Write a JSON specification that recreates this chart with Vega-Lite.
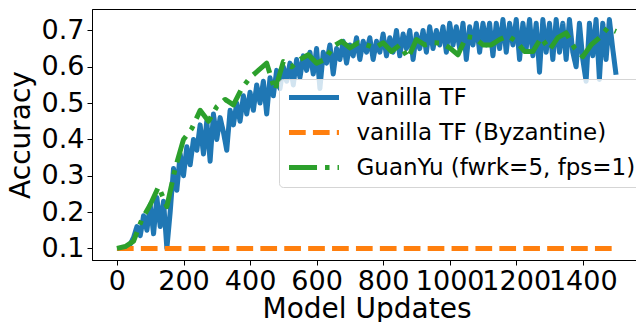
{
  "$schema": "https://vega.github.io/schema/vega-lite/v6.json",
  "autosize": {"type": "none"},
  "padding": {"left": 92, "top": 9, "right": 0, "bottom": 62},
  "width": 549,
  "height": 251,
  "background": "white",
  "config": {
    "view": {"stroke": "black", "strokeWidth": 1},
    "font": "DejaVu Sans",
    "axis": {
      "grid": false,
      "domainColor": "black",
      "domainWidth": 1,
      "tickColor": "black",
      "tickWidth": 1,
      "tickSize": 5,
      "labelColor": "black",
      "titleColor": "black",
      "labelFont": "DejaVu Sans",
      "titleFont": "DejaVu Sans",
      "labelFontSize": 27,
      "titleFontSize": 28,
      "titleFontWeight": "normal",
      "labelPadding": 3
    },
    "legend": {
      "orient": "none",
      "legendX": 187,
      "legendY": 70,
      "labelFont": "DejaVu Sans",
      "labelFontSize": 23,
      "labelColor": "black",
      "labelLimit": 0,
      "symbolType": "M-4,0H4",
      "symbolStrokeWidth": 5,
      "symbolSize": 156,
      "symbolOffset": 16.5,
      "labelOffset": 31,
      "fillColor": "rgba(255,255,255,0.8)",
      "strokeColor": "#d5d5d5",
      "cornerRadius": 4,
      "padding": 7,
      "rowPadding": 11
    }
  },
  "data": {
    "values": [
      {"s": "vanilla TF", "u": 0, "a": 0.100},
      {"s": "vanilla TF", "u": 10, "a": 0.100},
      {"s": "vanilla TF", "u": 20, "a": 0.100},
      {"s": "vanilla TF", "u": 30, "a": 0.105},
      {"s": "vanilla TF", "u": 40, "a": 0.112},
      {"s": "vanilla TF", "u": 50, "a": 0.130},
      {"s": "vanilla TF", "u": 60, "a": 0.160},
      {"s": "vanilla TF", "u": 70, "a": 0.135},
      {"s": "vanilla TF", "u": 80, "a": 0.190},
      {"s": "vanilla TF", "u": 90, "a": 0.150},
      {"s": "vanilla TF", "u": 100, "a": 0.220},
      {"s": "vanilla TF", "u": 110, "a": 0.140},
      {"s": "vanilla TF", "u": 120, "a": 0.240},
      {"s": "vanilla TF", "u": 130, "a": 0.160},
      {"s": "vanilla TF", "u": 140, "a": 0.230},
      {"s": "vanilla TF", "u": 150, "a": 0.100},
      {"s": "vanilla TF", "u": 160, "a": 0.200},
      {"s": "vanilla TF", "u": 170, "a": 0.320},
      {"s": "vanilla TF", "u": 180, "a": 0.260},
      {"s": "vanilla TF", "u": 190, "a": 0.360},
      {"s": "vanilla TF", "u": 200, "a": 0.300},
      {"s": "vanilla TF", "u": 210, "a": 0.380},
      {"s": "vanilla TF", "u": 220, "a": 0.330},
      {"s": "vanilla TF", "u": 230, "a": 0.400},
      {"s": "vanilla TF", "u": 240, "a": 0.370},
      {"s": "vanilla TF", "u": 250, "a": 0.440},
      {"s": "vanilla TF", "u": 260, "a": 0.360},
      {"s": "vanilla TF", "u": 270, "a": 0.450},
      {"s": "vanilla TF", "u": 280, "a": 0.340},
      {"s": "vanilla TF", "u": 290, "a": 0.470},
      {"s": "vanilla TF", "u": 300, "a": 0.400},
      {"s": "vanilla TF", "u": 310, "a": 0.460},
      {"s": "vanilla TF", "u": 320, "a": 0.420},
      {"s": "vanilla TF", "u": 330, "a": 0.370},
      {"s": "vanilla TF", "u": 340, "a": 0.480},
      {"s": "vanilla TF", "u": 350, "a": 0.440},
      {"s": "vanilla TF", "u": 360, "a": 0.500},
      {"s": "vanilla TF", "u": 370, "a": 0.450},
      {"s": "vanilla TF", "u": 380, "a": 0.520},
      {"s": "vanilla TF", "u": 390, "a": 0.470},
      {"s": "vanilla TF", "u": 400, "a": 0.530},
      {"s": "vanilla TF", "u": 410, "a": 0.480},
      {"s": "vanilla TF", "u": 420, "a": 0.550},
      {"s": "vanilla TF", "u": 430, "a": 0.500},
      {"s": "vanilla TF", "u": 440, "a": 0.560},
      {"s": "vanilla TF", "u": 450, "a": 0.470},
      {"s": "vanilla TF", "u": 460, "a": 0.570},
      {"s": "vanilla TF", "u": 470, "a": 0.520},
      {"s": "vanilla TF", "u": 480, "a": 0.590},
      {"s": "vanilla TF", "u": 490, "a": 0.540},
      {"s": "vanilla TF", "u": 500, "a": 0.600},
      {"s": "vanilla TF", "u": 510, "a": 0.560},
      {"s": "vanilla TF", "u": 520, "a": 0.610},
      {"s": "vanilla TF", "u": 530, "a": 0.550},
      {"s": "vanilla TF", "u": 540, "a": 0.620},
      {"s": "vanilla TF", "u": 550, "a": 0.570},
      {"s": "vanilla TF", "u": 560, "a": 0.630},
      {"s": "vanilla TF", "u": 570, "a": 0.590},
      {"s": "vanilla TF", "u": 580, "a": 0.640},
      {"s": "vanilla TF", "u": 590, "a": 0.580},
      {"s": "vanilla TF", "u": 600, "a": 0.650},
      {"s": "vanilla TF", "u": 610, "a": 0.540},
      {"s": "vanilla TF", "u": 620, "a": 0.640},
      {"s": "vanilla TF", "u": 630, "a": 0.610},
      {"s": "vanilla TF", "u": 640, "a": 0.660},
      {"s": "vanilla TF", "u": 650, "a": 0.580},
      {"s": "vanilla TF", "u": 660, "a": 0.650},
      {"s": "vanilla TF", "u": 670, "a": 0.620},
      {"s": "vanilla TF", "u": 680, "a": 0.670},
      {"s": "vanilla TF", "u": 690, "a": 0.610},
      {"s": "vanilla TF", "u": 700, "a": 0.660},
      {"s": "vanilla TF", "u": 710, "a": 0.630},
      {"s": "vanilla TF", "u": 720, "a": 0.680},
      {"s": "vanilla TF", "u": 730, "a": 0.620},
      {"s": "vanilla TF", "u": 740, "a": 0.670},
      {"s": "vanilla TF", "u": 750, "a": 0.640},
      {"s": "vanilla TF", "u": 760, "a": 0.680},
      {"s": "vanilla TF", "u": 770, "a": 0.620},
      {"s": "vanilla TF", "u": 780, "a": 0.670},
      {"s": "vanilla TF", "u": 790, "a": 0.640},
      {"s": "vanilla TF", "u": 800, "a": 0.690},
      {"s": "vanilla TF", "u": 810, "a": 0.630},
      {"s": "vanilla TF", "u": 820, "a": 0.680},
      {"s": "vanilla TF", "u": 830, "a": 0.640},
      {"s": "vanilla TF", "u": 840, "a": 0.700},
      {"s": "vanilla TF", "u": 850, "a": 0.630},
      {"s": "vanilla TF", "u": 860, "a": 0.690},
      {"s": "vanilla TF", "u": 870, "a": 0.650},
      {"s": "vanilla TF", "u": 880, "a": 0.700},
      {"s": "vanilla TF", "u": 890, "a": 0.620},
      {"s": "vanilla TF", "u": 900, "a": 0.690},
      {"s": "vanilla TF", "u": 910, "a": 0.650},
      {"s": "vanilla TF", "u": 920, "a": 0.700},
      {"s": "vanilla TF", "u": 930, "a": 0.640},
      {"s": "vanilla TF", "u": 940, "a": 0.710},
      {"s": "vanilla TF", "u": 950, "a": 0.650},
      {"s": "vanilla TF", "u": 960, "a": 0.700},
      {"s": "vanilla TF", "u": 970, "a": 0.660},
      {"s": "vanilla TF", "u": 980, "a": 0.710},
      {"s": "vanilla TF", "u": 990, "a": 0.640},
      {"s": "vanilla TF", "u": 1000, "a": 0.720},
      {"s": "vanilla TF", "u": 1010, "a": 0.660},
      {"s": "vanilla TF", "u": 1020, "a": 0.710},
      {"s": "vanilla TF", "u": 1030, "a": 0.650},
      {"s": "vanilla TF", "u": 1040, "a": 0.720},
      {"s": "vanilla TF", "u": 1050, "a": 0.620},
      {"s": "vanilla TF", "u": 1060, "a": 0.710},
      {"s": "vanilla TF", "u": 1070, "a": 0.660},
      {"s": "vanilla TF", "u": 1080, "a": 0.720},
      {"s": "vanilla TF", "u": 1090, "a": 0.640},
      {"s": "vanilla TF", "u": 1100, "a": 0.720},
      {"s": "vanilla TF", "u": 1110, "a": 0.660},
      {"s": "vanilla TF", "u": 1120, "a": 0.720},
      {"s": "vanilla TF", "u": 1130, "a": 0.630},
      {"s": "vanilla TF", "u": 1140, "a": 0.720},
      {"s": "vanilla TF", "u": 1150, "a": 0.650},
      {"s": "vanilla TF", "u": 1160, "a": 0.730},
      {"s": "vanilla TF", "u": 1170, "a": 0.640},
      {"s": "vanilla TF", "u": 1180, "a": 0.720},
      {"s": "vanilla TF", "u": 1190, "a": 0.660},
      {"s": "vanilla TF", "u": 1200, "a": 0.730},
      {"s": "vanilla TF", "u": 1210, "a": 0.620},
      {"s": "vanilla TF", "u": 1220, "a": 0.720},
      {"s": "vanilla TF", "u": 1230, "a": 0.650},
      {"s": "vanilla TF", "u": 1240, "a": 0.730},
      {"s": "vanilla TF", "u": 1250, "a": 0.630},
      {"s": "vanilla TF", "u": 1260, "a": 0.720},
      {"s": "vanilla TF", "u": 1270, "a": 0.585},
      {"s": "vanilla TF", "u": 1280, "a": 0.730},
      {"s": "vanilla TF", "u": 1290, "a": 0.640},
      {"s": "vanilla TF", "u": 1300, "a": 0.720},
      {"s": "vanilla TF", "u": 1310, "a": 0.620},
      {"s": "vanilla TF", "u": 1320, "a": 0.730},
      {"s": "vanilla TF", "u": 1330, "a": 0.640},
      {"s": "vanilla TF", "u": 1340, "a": 0.720},
      {"s": "vanilla TF", "u": 1350, "a": 0.620},
      {"s": "vanilla TF", "u": 1360, "a": 0.730},
      {"s": "vanilla TF", "u": 1370, "a": 0.640},
      {"s": "vanilla TF", "u": 1380, "a": 0.600},
      {"s": "vanilla TF", "u": 1390, "a": 0.720},
      {"s": "vanilla TF", "u": 1400, "a": 0.620},
      {"s": "vanilla TF", "u": 1410, "a": 0.560},
      {"s": "vanilla TF", "u": 1420, "a": 0.720},
      {"s": "vanilla TF", "u": 1430, "a": 0.630},
      {"s": "vanilla TF", "u": 1440, "a": 0.730},
      {"s": "vanilla TF", "u": 1450, "a": 0.565},
      {"s": "vanilla TF", "u": 1460, "a": 0.720},
      {"s": "vanilla TF", "u": 1470, "a": 0.620},
      {"s": "vanilla TF", "u": 1480, "a": 0.730},
      {"s": "vanilla TF", "u": 1490, "a": 0.650},
      {"s": "vanilla TF", "u": 1500, "a": 0.578},
      {"s": "vanilla TF (Byzantine)", "u": 0, "a": 0.1},
      {"s": "vanilla TF (Byzantine)", "u": 1500, "a": 0.1},
      {"s": "GuanYu (fwrk=5, fps=1)", "u": 0, "a": 0.100},
      {"s": "GuanYu (fwrk=5, fps=1)", "u": 25, "a": 0.105},
      {"s": "GuanYu (fwrk=5, fps=1)", "u": 50, "a": 0.120},
      {"s": "GuanYu (fwrk=5, fps=1)", "u": 75, "a": 0.180},
      {"s": "GuanYu (fwrk=5, fps=1)", "u": 100, "a": 0.220},
      {"s": "GuanYu (fwrk=5, fps=1)", "u": 125, "a": 0.270},
      {"s": "GuanYu (fwrk=5, fps=1)", "u": 150, "a": 0.215},
      {"s": "GuanYu (fwrk=5, fps=1)", "u": 175, "a": 0.320},
      {"s": "GuanYu (fwrk=5, fps=1)", "u": 200, "a": 0.400},
      {"s": "GuanYu (fwrk=5, fps=1)", "u": 225, "a": 0.430},
      {"s": "GuanYu (fwrk=5, fps=1)", "u": 250, "a": 0.480},
      {"s": "GuanYu (fwrk=5, fps=1)", "u": 275, "a": 0.450},
      {"s": "GuanYu (fwrk=5, fps=1)", "u": 300, "a": 0.490},
      {"s": "GuanYu (fwrk=5, fps=1)", "u": 325, "a": 0.510},
      {"s": "GuanYu (fwrk=5, fps=1)", "u": 350, "a": 0.495},
      {"s": "GuanYu (fwrk=5, fps=1)", "u": 375, "a": 0.540},
      {"s": "GuanYu (fwrk=5, fps=1)", "u": 400, "a": 0.570},
      {"s": "GuanYu (fwrk=5, fps=1)", "u": 425, "a": 0.590},
      {"s": "GuanYu (fwrk=5, fps=1)", "u": 450, "a": 0.610},
      {"s": "GuanYu (fwrk=5, fps=1)", "u": 475, "a": 0.535},
      {"s": "GuanYu (fwrk=5, fps=1)", "u": 500, "a": 0.614},
      {"s": "GuanYu (fwrk=5, fps=1)", "u": 525, "a": 0.600},
      {"s": "GuanYu (fwrk=5, fps=1)", "u": 550, "a": 0.620},
      {"s": "GuanYu (fwrk=5, fps=1)", "u": 575, "a": 0.633},
      {"s": "GuanYu (fwrk=5, fps=1)", "u": 600, "a": 0.610},
      {"s": "GuanYu (fwrk=5, fps=1)", "u": 625, "a": 0.620},
      {"s": "GuanYu (fwrk=5, fps=1)", "u": 650, "a": 0.656},
      {"s": "GuanYu (fwrk=5, fps=1)", "u": 675, "a": 0.670},
      {"s": "GuanYu (fwrk=5, fps=1)", "u": 700, "a": 0.652},
      {"s": "GuanYu (fwrk=5, fps=1)", "u": 725, "a": 0.666},
      {"s": "GuanYu (fwrk=5, fps=1)", "u": 750, "a": 0.660},
      {"s": "GuanYu (fwrk=5, fps=1)", "u": 775, "a": 0.652},
      {"s": "GuanYu (fwrk=5, fps=1)", "u": 800, "a": 0.666},
      {"s": "GuanYu (fwrk=5, fps=1)", "u": 825, "a": 0.642},
      {"s": "GuanYu (fwrk=5, fps=1)", "u": 850, "a": 0.660},
      {"s": "GuanYu (fwrk=5, fps=1)", "u": 875, "a": 0.624},
      {"s": "GuanYu (fwrk=5, fps=1)", "u": 900, "a": 0.675},
      {"s": "GuanYu (fwrk=5, fps=1)", "u": 925, "a": 0.660},
      {"s": "GuanYu (fwrk=5, fps=1)", "u": 950, "a": 0.666},
      {"s": "GuanYu (fwrk=5, fps=1)", "u": 975, "a": 0.665},
      {"s": "GuanYu (fwrk=5, fps=1)", "u": 1000, "a": 0.652},
      {"s": "GuanYu (fwrk=5, fps=1)", "u": 1025, "a": 0.633},
      {"s": "GuanYu (fwrk=5, fps=1)", "u": 1050, "a": 0.683},
      {"s": "GuanYu (fwrk=5, fps=1)", "u": 1075, "a": 0.680},
      {"s": "GuanYu (fwrk=5, fps=1)", "u": 1100, "a": 0.660},
      {"s": "GuanYu (fwrk=5, fps=1)", "u": 1125, "a": 0.660},
      {"s": "GuanYu (fwrk=5, fps=1)", "u": 1150, "a": 0.675},
      {"s": "GuanYu (fwrk=5, fps=1)", "u": 1175, "a": 0.685},
      {"s": "GuanYu (fwrk=5, fps=1)", "u": 1200, "a": 0.670},
      {"s": "GuanYu (fwrk=5, fps=1)", "u": 1225, "a": 0.642},
      {"s": "GuanYu (fwrk=5, fps=1)", "u": 1250, "a": 0.642},
      {"s": "GuanYu (fwrk=5, fps=1)", "u": 1275, "a": 0.680},
      {"s": "GuanYu (fwrk=5, fps=1)", "u": 1300, "a": 0.647},
      {"s": "GuanYu (fwrk=5, fps=1)", "u": 1325, "a": 0.680},
      {"s": "GuanYu (fwrk=5, fps=1)", "u": 1350, "a": 0.693},
      {"s": "GuanYu (fwrk=5, fps=1)", "u": 1375, "a": 0.652},
      {"s": "GuanYu (fwrk=5, fps=1)", "u": 1400, "a": 0.628},
      {"s": "GuanYu (fwrk=5, fps=1)", "u": 1425, "a": 0.660},
      {"s": "GuanYu (fwrk=5, fps=1)", "u": 1450, "a": 0.680},
      {"s": "GuanYu (fwrk=5, fps=1)", "u": 1475, "a": 0.707},
      {"s": "GuanYu (fwrk=5, fps=1)", "u": 1500, "a": 0.697}
    ]
  },
  "mark": {"type": "line", "strokeWidth": 5, "strokeJoin": "round", "strokeCap": "butt"},
  "encoding": {
    "x": {
      "field": "u", "type": "quantitative",
      "scale": {"domain": [-75, 1575], "nice": false, "zero": false},
      "axis": {"values": [0, 200, 400, 600, 800, 1000, 1200, 1400], "format": "d", "title": "Model Updates", "titlePadding": 1, "labelFlush": false, "labelOverlap": false}
    },
    "y": {
      "field": "a", "type": "quantitative",
      "scale": {"domain": [0.068, 0.759], "nice": false, "zero": false},
      "axis": {"values": [0.1, 0.2, 0.3, 0.4, 0.5, 0.6, 0.7], "format": ".1f", "title": "Accuracy", "titlePadding": 6, "labelFlush": false, "labelOverlap": false}
    },
    "color": {
      "field": "s", "type": "nominal",
      "scale": {"domain": ["vanilla TF", "vanilla TF (Byzantine)", "GuanYu (fwrk=5, fps=1)"], "range": ["#1f77b4", "#ff7f0e", "#2ca02c"]},
      "legend": {"title": null}
    },
    "strokeDash": {
      "field": "s", "type": "nominal",
      "scale": {"domain": ["vanilla TF", "vanilla TF (Byzantine)", "GuanYu (fwrk=5, fps=1)"], "range": [[1, 0], [16.7, 7.2], [28, 8, 4.5, 8]]},
      "legend": {"title": null}
    }
  }
}
